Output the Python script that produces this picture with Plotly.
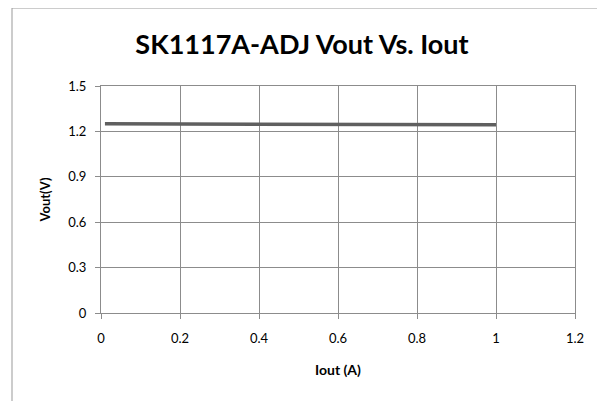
import plotly.graph_objects as go

iout = [0.01, 0.2, 0.4, 0.6, 0.8, 1.0]
vout = [1.250, 1.249, 1.248, 1.247, 1.245, 1.244]
x_ticks = [0, 0.2, 0.4, 0.6, 0.8, 1, 1.2]
x_labels = ["0", "0.2", "0.4", "0.6", "0.8", "1", "1.2"]
y_ticks = [0, 0.3, 0.6, 0.9, 1.2, 1.5]
y_labels = ["0", "0.3", "0.6", "0.9", "1.2", "1.5"]

FONT = "Lato, Open Sans, sans-serif"
W, H = 589, 393
L, R, T, B = 93, 22, 78, 88
PW, PH = W - L - R, H - T - B

fig = go.Figure()
fig.add_trace(go.Scatter(x=iout, y=vout, mode="lines",
                         line=dict(color="#5f5f5f", width=3.5), showlegend=False))

fig.update_layout(
    width=W, height=H,
    margin=dict(l=L, r=R, t=T, b=B),
    paper_bgcolor="white", plot_bgcolor="white",
    font=dict(family=FONT, color="black", size=13),
    title=dict(text="<b>SK1117A-ADJ Vout Vs. Iout</b>", x=294 / W, xref="container",
               xanchor="center", y=1 - 37 / H, yref="container", yanchor="middle",
               font=dict(size=27, family=FONT, color="black")),
    shapes=[
        dict(type="line", xref="paper", yref="paper", x0=(4 - L) / PW, x1=(W - L) / PW,
             y0=(H - B) / PH, y1=(H - B) / PH, line=dict(color="#999999", width=1)),
        dict(type="line", xref="paper", yref="paper", x0=(4 - L) / PW, x1=(4 - L) / PW,
             y0=-B / PH, y1=(H - B) / PH, line=dict(color="#999999", width=1)),
    ],
)
fig.update_xaxes(range=[0, 1.2], tickvals=x_ticks, ticktext=x_labels,
                 showgrid=True, gridcolor="#8c8c8c", gridwidth=1,
                 showline=True, linecolor="#8c8c8c", linewidth=1, mirror=True,
                 ticks="outside", ticklen=5, tickcolor="#8c8c8c",
                 zeroline=False, tickfont=dict(size=13), ticklabelstandoff=8,
                 title=dict(text="<b>Iout (A)</b>", font=dict(size=14), standoff=20))
fig.update_yaxes(range=[0, 1.5], tickvals=y_ticks, ticktext=y_labels,
                 showgrid=True, gridcolor="#8c8c8c", gridwidth=1,
                 showline=True, linecolor="#8c8c8c", linewidth=1, mirror=True,
                 ticks="outside", ticklen=5, tickcolor="#8c8c8c",
                 zeroline=False, tickfont=dict(size=13), ticklabelstandoff=6,
                 title=dict(text="<b>Vout(V)</b>", font=dict(size=13), standoff=14))

fig.write_html("out.html")
